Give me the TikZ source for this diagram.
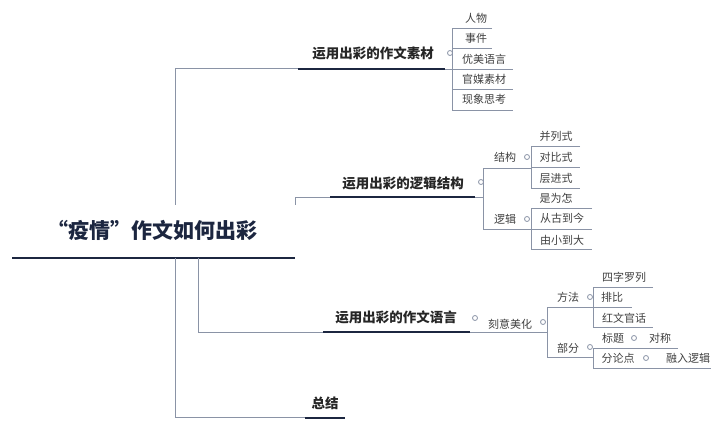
\documentclass[tikz,border=0pt]{standalone}
\usepackage{fontspec}
\setmainfont{Noto Sans CJK SC}
\begin{document}
\begin{tikzpicture}[x=1pt,y=-1pt,
  ln/.style={draw=lineg,line width=0.9pt},
  ul/.style={draw=navy,line width=2.6pt},
  dot/.style={circle,draw=lineg,fill=white,line width=0.8pt,inner sep=0pt,minimum size=5pt},
  root/.style={font=\fontsize{21}{21}\selectfont\bfseries,text=navy,inner sep=0pt},
  topic/.style={font=\fontsize{13.5}{14}\selectfont\bfseries,text=black!85,inner sep=0pt},
  leaf/.style={font=\fontsize{11}{12}\selectfont,text=black!75,inner sep=0pt}]
\definecolor{lineg}{HTML}{8A93A6}
\definecolor{navy}{HTML}{1C2640}
\useasboundingbox (0,0) rectangle (720,427);
% root
\node[root] (root) at (152,230) {“疫情”作文如何出彩};
\draw[ul] (12,258) -- (295,258);
% trunk
\draw[ln] (175,205) -- (175,68) -- (298,68);
\draw[ln] (175,258) -- (175,417) -- (305,417);
\draw[ln] (198,258) -- (198,332) -- (323,332);
\draw[ln] (295,205) -- (295,197) -- (330,197);
% branch 1
\node[topic] (t1) at (373,53) {运用出彩的作文素材};
\draw[ul] (298,69) -- (445,69);
\node[dot] (d1) at (450,53) {};
\draw[ln] (445,69) -- (513,69);
\draw[ln] (492,28) -- (452,28) -- (452,110) -- (513,110);
\draw[ln] (452,48) -- (492,48);
\draw[ln] (452,89) -- (513,89);
\node[leaf] (a1) at (476,18) {人物};
\node[leaf] (a2) at (476,38) {事件};
\node[leaf] (a3) at (484,59) {优美语言};
\node[leaf] (a4) at (484,79) {官媒素材};
\node[leaf] (a5) at (484,99) {现象思考};
% branch 2
\node[topic] (t2) at (403,183) {运用出彩的逻辑结构};
\draw[ul] (330,197) -- (475,197);
\node[dot] (d2) at (481,182) {};
\draw[ln] (475,197) -- (483,197);
\draw[ln] (531,168) -- (483,168) -- (483,229) -- (531,229);
\node[leaf] (b1) at (505,157) {结构};
\node[dot] (db1) at (527,157) {};
\node[leaf] (b2) at (505,219) {逻辑};
\node[dot] (db2) at (527,219) {};
\draw[ln] (580,146) -- (531,146) -- (531,188) -- (580,188);
\draw[ln] (531,167) -- (580,167);
\node[leaf] (c1) at (556,136) {并列式};
\node[leaf] (c2) at (556,157) {对比式};
\node[leaf] (c3) at (556,178) {层进式};
\draw[ln] (592,208) -- (531,208) -- (531,249) -- (592,249);
\draw[ln] (531,229) -- (592,229);
\node[leaf] (c4) at (556,198) {是为怎};
\node[leaf] (c5) at (562,218) {从古到今};
\node[leaf] (c6) at (562,240) {由小到大};
% branch 3
\node[topic] (t3) at (396,317) {运用出彩的作文语言};
\draw[ul] (323,332) -- (470,332);
\node[dot] (d3) at (475,318) {};
\draw[ln] (470,332) -- (547,332);
\node[leaf] (e1) at (510,324) {刻意美化};
\node[dot] (de1) at (543,322) {};
\draw[ln] (593,307) -- (547,307) -- (547,357) -- (593,357);
\node[leaf] (f1) at (568,297) {方法};
\node[dot] (df1) at (590,297) {};
\node[leaf] (f2) at (568,348) {部分};
\node[dot] (df2) at (590,347) {};
\draw[ln] (653,287) -- (593,287) -- (593,327) -- (653,327);
\draw[ln] (593,307) -- (632,307);
\node[leaf] (g1) at (624,277) {四字罗列};
\node[leaf] (g2) at (612,297) {排比};
\node[leaf] (g3) at (624,318) {红文官话};
\draw[ln] (678,348) -- (593,348) -- (593,368) -- (711,368);
\node[leaf] (g4) at (613,338) {标题};
\node[dot] (dg4) at (634,338) {};
\node[leaf] (h1) at (660,338) {对称};
\node[leaf] (g5) at (618,358) {分论点};
\node[dot] (dg5) at (646,358) {};
\node[leaf] (h2) at (688,358) {融入逻辑};
% branch 4
\node[topic] (t4) at (325,403) {总结};
\draw[ul] (305,418) -- (345,418);
\end{tikzpicture}
\end{document}
